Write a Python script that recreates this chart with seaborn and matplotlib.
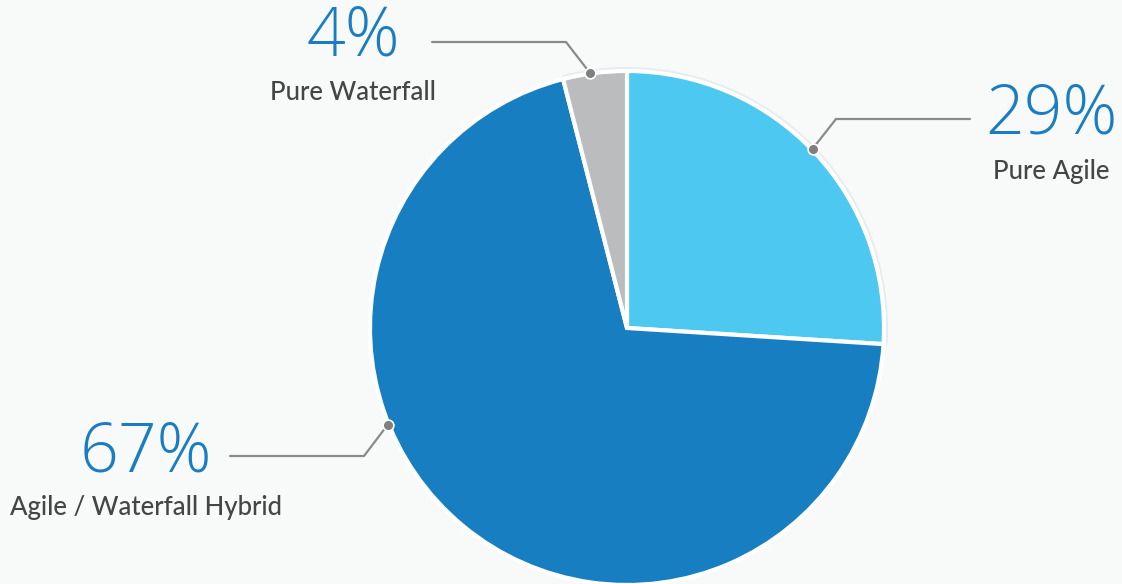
import matplotlib
matplotlib.use("Agg")
import matplotlib.pyplot as plt
import seaborn as sns
import numpy as np

# ---- data ----
categories = ["Pure Agile", "Agile / Waterfall Hybrid", "Pure Waterfall"]
shares = [26, 70, 4]                 # wedge sizes as drawn
pct_labels = ["29%", "67%", "4%"]    # printed labels
colors = ["#4DC8F1", "#177EC2", "#BBBCBE"]

sns.set_theme(style="white")
plt.rcParams['font.family'] = ['Lato', 'DejaVu Sans']

W, H = 1122, 584
fig = plt.figure(figsize=(W / 100, H / 100), dpi=100)
bg = "#F8FAFA"
fig.patch.set_facecolor(bg)
ax = fig.add_axes([0, 0, 1, 1])
ax.set_facecolor(bg)
ax.set_xlim(0, W)
ax.set_ylim(0, H)
ax.set_aspect("equal")
ax.axis("off")

cx, cy, R = 627, H - 328, 257

# faint halo ring behind the light wedges
ax.pie(shares, colors=["#E8ECEE", (0, 0, 0, 0), "#E8ECEE"], startangle=90,
       counterclock=False, center=(cx, cy), radius=R + 4,
       wedgeprops=dict(linewidth=0))
wedges, _ = ax.pie(shares, colors=colors, startangle=90, counterclock=False,
                   center=(cx, cy), radius=R,
                   wedgeprops=dict(edgecolor="white", linewidth=3))
ax.set_xlim(0, W)
ax.set_ylim(0, H)

line_col = "#8A8A8A"
layout = {
    "Pure Agile": dict(ang=44, elbow=(836, 119), end=970, tx=1051, ty=116),
    "Pure Waterfall": dict(ang=98.3, elbow=(566, 42), end=432, tx=353, ty=38),
    "Agile / Waterfall Hybrid": dict(ang=202, elbow=(364, 456), end=230, tx=146, ty=453),
}
for cat, pct in zip(categories, pct_labels):
    L = layout[cat]
    a = np.deg2rad(L["ang"])
    px, py = cx + (R + 1) * np.cos(a), cy + (R + 1) * np.sin(a)
    ex, ey = L["elbow"][0], H - L["elbow"][1]
    ax.plot([px, ex, L["end"]], [py, ey, ey], color=line_col, lw=1.6,
            solid_joinstyle="miter", zorder=5)
    ax.scatter([px], [py], s=60, color="#7F7F7F", edgecolor="white",
               linewidth=1.2, zorder=6)
    ax.text(L["tx"], H - L["ty"], pct, ha="center", va="center",
            fontsize=49, fontfamily=["Open Sans", "DejaVu Sans"], fontweight=300,
            color="#1A7DC4")
    ax.text(L["tx"], H - L["ty"] - 55, cat, ha="center", va="center",
            fontsize=18.5, fontweight="medium", color="#454545")

fig.savefig("out.png", dpi=100, facecolor=bg)
